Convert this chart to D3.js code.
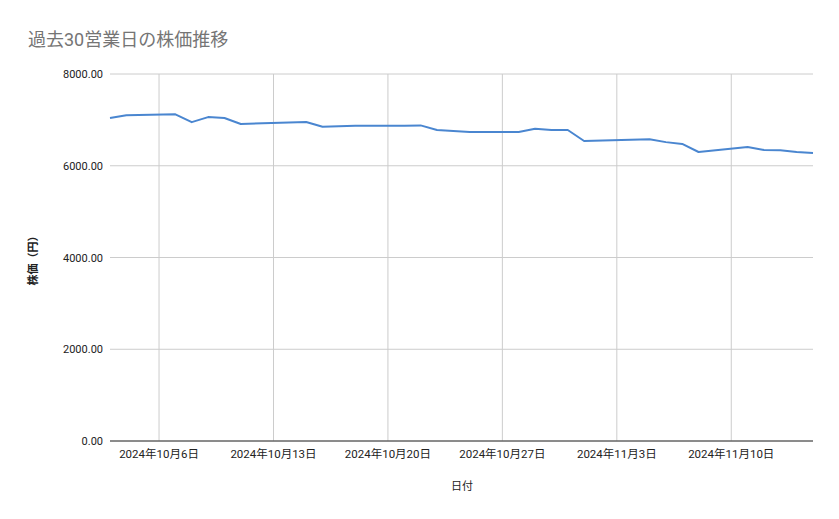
<!DOCTYPE html><html><head><meta charset="utf-8"><script src="https://cdn.jsdelivr.net/npm/d3@7"></script>
<style>body{margin:0;background:#fff}text{font-family:Roboto,"Noto Sans CJK JP",sans-serif}</style></head><body><svg id="c" width="839" height="519"></svg><script>
const dates=["2024-10-03","2024-10-04","2024-10-07","2024-10-08","2024-10-09","2024-10-10","2024-10-11","2024-10-15","2024-10-16","2024-10-17","2024-10-18","2024-10-21","2024-10-22","2024-10-23","2024-10-24","2024-10-25","2024-10-28","2024-10-29","2024-10-30","2024-10-31","2024-11-01","2024-11-05","2024-11-06","2024-11-07","2024-11-08","2024-11-11","2024-11-12","2024-11-13","2024-11-14","2024-11-15"];
const prices=[7040,7100,7120,6950,7060,7040,6910,6955,6850,6860,6870,6870,6880,6780,6755,6735,6735,6805,6780,6780,6540,6580,6515,6475,6300,6410,6345,6340,6300,6280];
const yTicks=[0,2000,4000,6000,8000];
const xTicks=["2024-10-06","2024-10-13","2024-10-20","2024-10-27","2024-11-03","2024-11-10"];
const p=d3.timeParse("%Y-%m-%d");
const svg=d3.select("#c");
const L=110,R=813,T=74,B=441;
const x=d3.scaleTime().domain([p(dates[0]),p(dates[dates.length-1])]).range([L,R]);
const y=d3.scaleLinear().domain([0,8000]).range([B,T]);
svg.append("text").attr("x",28).attr("y",46).attr("font-size",18).attr("fill","#757575").text("過去30営業日の株価推移");
const g=svg.append("g");
g.selectAll(".hy").data(yTicks).join("line").attr("x1",L).attr("x2",R).attr("y1",d=>y(d)).attr("y2",d=>y(d)).attr("stroke","#cccccc");
g.selectAll(".vx").data(xTicks).join("line").attr("x1",d=>x(p(d))).attr("x2",d=>x(p(d))).attr("y1",T).attr("y2",B).attr("stroke","#cccccc");
g.append("line").attr("x1",L).attr("x2",R).attr("y1",B).attr("y2",B).attr("stroke","#333");
g.selectAll(".yl").data(yTicks).join("text").attr("x",103).attr("y",d=>y(d)+4).attr("text-anchor","end").attr("font-size",11).attr("fill","#222").text(d=>d3.format(".2f")(d));
g.selectAll(".xl").data(xTicks).join("text").attr("x",d=>x(p(d))).attr("y",458).attr("text-anchor","middle").attr("font-size",11.5).attr("fill","#222").text(d=>{const t=p(d);return `${t.getFullYear()}年${t.getMonth()+1}月${t.getDate()}日`;});
svg.append("text").attr("x",462).attr("y",490).attr("text-anchor","middle").attr("font-size",11).attr("fill","#222").text("日付");
svg.append("text").attr("transform","translate(37,258) rotate(-90)").attr("text-anchor","middle").attr("font-size",11).attr("font-weight","bold").attr("fill","#222").text("株価（円）");
svg.append("path").datum(dates.map((d,i)=>[p(d),prices[i]])).attr("fill","none").attr("stroke","#4a86d0").attr("stroke-width",2).attr("stroke-linejoin","round")
 .attr("d",d3.line().x(d=>x(d[0])).y(d=>y(d[1])));
</script></body></html>
